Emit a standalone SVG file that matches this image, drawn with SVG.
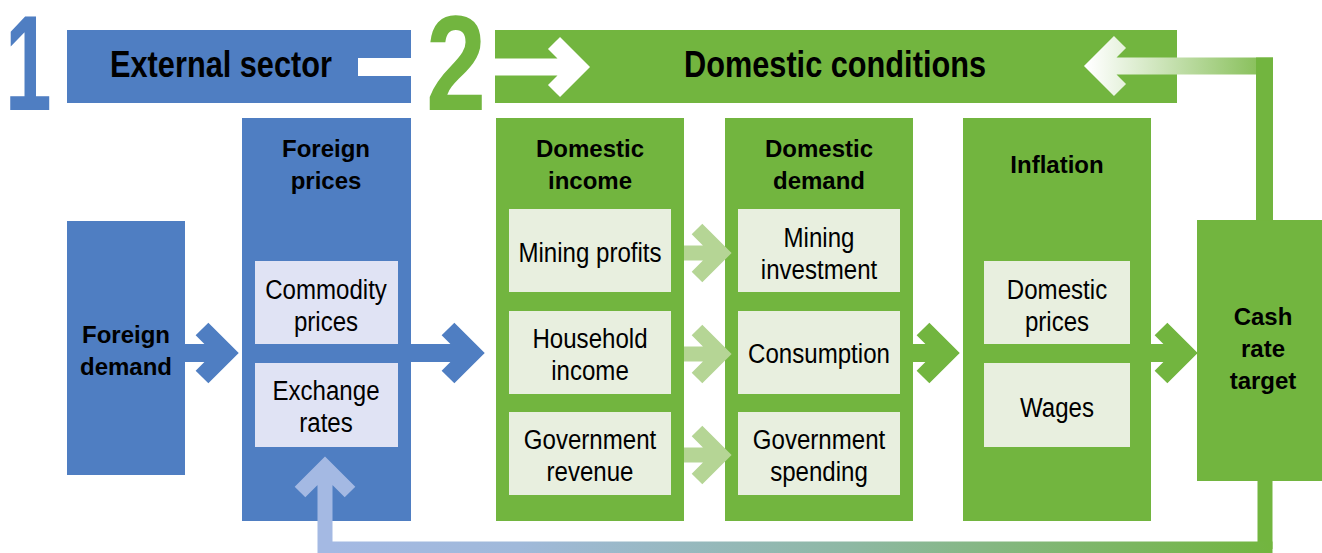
<svg xmlns="http://www.w3.org/2000/svg" width="1322" height="553" viewBox="0 0 1322 553">
<defs>
<style>
.blue{fill:#4F7EC2}
.green{fill:#72B53F}
.lb{fill:#E0E3F4}
.lg{fill:#E8EFDF}
.t{font-family:"Liberation Sans",Arial,sans-serif;fill:#000;text-anchor:middle}
.b{font-weight:bold;font-size:24px}
.r{font-size:28px}
.h{font-weight:bold;font-size:37px}
.num{font-family:"Liberation Sans",Arial,sans-serif;font-weight:bold;font-size:135px}
.arr{fill:none;stroke-linejoin:miter;stroke-miterlimit:10;stroke-linecap:butt}
</style>
<linearGradient id="gTop" gradientUnits="userSpaceOnUse" x1="1088" y1="0" x2="1273" y2="0">
<stop offset="0" stop-color="#FFFFFF"/>
<stop offset="1" stop-color="#7FBB4E"/>
</linearGradient>
<linearGradient id="gBot" gradientUnits="userSpaceOnUse" x1="330" y1="0" x2="1270" y2="0">
<stop offset="0" stop-color="#A4B9E3"/>
<stop offset="0.2" stop-color="#A0B9DA"/>
<stop offset="0.55" stop-color="#8EB8A4"/>
<stop offset="1" stop-color="#72B53F"/>
</linearGradient>
</defs>

<g id="header-external">
<text class="num" transform="translate(5,110) scale(0.62,1)" x="0" y="0" fill="#4F7EC2">1</text>
<rect class="blue" x="67" y="30" width="344" height="73"/>
<text class="t h" transform="translate(221,77) scale(0.83,1)" x="0" y="0">External sector</text>
</g>
<g id="header-domestic">
<text class="num" transform="translate(456,110) scale(0.8,1)" x="0" y="0" fill="#72B53F" text-anchor="middle">2</text>
<rect class="green" x="495" y="30" width="682" height="73"/>
<text class="t h" transform="translate(835,77) scale(0.83,1)" x="0" y="0">Domestic conditions</text>
</g>

<g id="foreign-demand">
<rect class="blue" x="67" y="221" width="118" height="254"/>
<text class="t b" x="126" y="343">Foreign</text>
<text class="t b" x="126" y="375">demand</text>
</g>

<g id="foreign-prices">
<rect class="blue" x="242" y="118" width="169" height="403"/>
<text class="t b" x="326" y="157">Foreign</text>
<text class="t b" x="326" y="189">prices</text>
<g id="commodity-prices">
<rect class="lb" x="255" y="261" width="143" height="83"/>
<text class="t r" transform="translate(326,299) scale(0.86,1)">Commodity</text>
<text class="t r" transform="translate(326,331) scale(0.86,1)">prices</text>
</g>
<g id="exchange-rates">
<rect class="lb" x="255" y="363" width="143" height="84"/>
<text class="t r" transform="translate(326,400) scale(0.86,1)">Exchange</text>
<text class="t r" transform="translate(326,432) scale(0.86,1)">rates</text>
</g>
</g>

<g id="domestic-income">
<rect class="green" x="496" y="118" width="188" height="403"/>
<text class="t b" x="590" y="157">Domestic</text>
<text class="t b" x="590" y="189">income</text>
<g id="mining-profits">
<rect class="lg" x="509" y="209" width="162" height="83"/>
<text class="t r" transform="translate(590,262) scale(0.86,1)">Mining profits</text>
</g>
<g id="household-income">
<rect class="lg" x="509" y="311" width="162" height="83"/>
<text class="t r" transform="translate(590,348) scale(0.86,1)">Household</text>
<text class="t r" transform="translate(590,380) scale(0.86,1)">income</text>
</g>
<g id="government-revenue">
<rect class="lg" x="509" y="412" width="162" height="83"/>
<text class="t r" transform="translate(590,449) scale(0.86,1)">Government</text>
<text class="t r" transform="translate(590,481) scale(0.86,1)">revenue</text>
</g>
</g>

<g id="domestic-demand">
<rect class="green" x="725" y="118" width="188" height="403"/>
<text class="t b" x="819" y="157">Domestic</text>
<text class="t b" x="819" y="189">demand</text>
<g id="mining-investment">
<rect class="lg" x="738" y="209" width="162" height="83"/>
<text class="t r" transform="translate(819,247) scale(0.86,1)">Mining</text>
<text class="t r" transform="translate(819,279) scale(0.86,1)">investment</text>
</g>
<g id="consumption">
<rect class="lg" x="738" y="311" width="162" height="83"/>
<text class="t r" transform="translate(819,363) scale(0.86,1)">Consumption</text>
</g>
<g id="government-spending">
<rect class="lg" x="738" y="412" width="162" height="83"/>
<text class="t r" transform="translate(819,449) scale(0.86,1)">Government</text>
<text class="t r" transform="translate(819,481) scale(0.86,1)">spending</text>
</g>
</g>

<g id="inflation">
<rect class="green" x="963" y="118" width="188" height="403"/>
<text class="t b" x="1057" y="173">Inflation</text>
<g id="domestic-prices">
<rect class="lg" x="984" y="261" width="146" height="83"/>
<text class="t r" transform="translate(1057,299) scale(0.86,1)">Domestic</text>
<text class="t r" transform="translate(1057,331) scale(0.86,1)">prices</text>
</g>
<g id="wages">
<rect class="lg" x="984" y="363" width="146" height="84"/>
<text class="t r" transform="translate(1057,417) scale(0.86,1)">Wages</text>
</g>
</g>

<g id="cash-rate-target">
<rect class="green" x="1197" y="220" width="125" height="261"/>
<text class="t b" x="1263" y="325">Cash</text>
<text class="t b" x="1263" y="357">rate</text>
<text class="t b" x="1263" y="389">target</text>
</g>

<g id="connectors">
<rect x="358" y="58" width="54" height="18" fill="#FFFFFF"/>
<path class="arr" d="M495,67 L580,67 M554,43 L578,67 L554,91" stroke="#FFFFFF" stroke-width="17"/>
<path class="arr" d="M185,353 L228,353 M202,329 L226,353 L202,377" stroke="#4F7EC2" stroke-width="18"/>
<path class="arr" d="M398,353 L474,353 M448,329 L472,353 L448,377" stroke="#4F7EC2" stroke-width="18"/>
<path class="arr" d="M684,253 L723,253 M697,229 L721,253 L697,277" stroke="#B5D595" stroke-width="15"/>
<path class="arr" d="M684,354 L723,354 M697,330 L721,354 L697,378" stroke="#B5D595" stroke-width="15"/>
<path class="arr" d="M684,455 L723,455 M697,431 L721,455 L697,479" stroke="#B5D595" stroke-width="15"/>
<path class="arr" d="M913,353 L950,353 M923,329 L947,353 L923,377" stroke="#72B53F" stroke-width="18"/>
<path class="arr" d="M1151,353 L1188,353 M1161,329 L1185,353 L1161,377" stroke="#72B53F" stroke-width="18"/>
<path class="arr" d="M1273,66 L1094,66 M1120,42 L1096,66 L1120,90" stroke="url(#gTop)" stroke-width="17"/>
<rect x="1256" y="57.5" width="17" height="163" fill="#72B53F"/>
<path class="arr" d="M1265,481 L1265,549" stroke="#72B53F" stroke-width="15"/>
<path class="arr" d="M1272.5,549 L318,549" stroke="url(#gBot)" stroke-width="15"/>
<path class="arr" d="M325,556 L325,465 M300,492 L325,467 L350,492" stroke="#A4B9E3" stroke-width="15"/>
</g>
</svg>
